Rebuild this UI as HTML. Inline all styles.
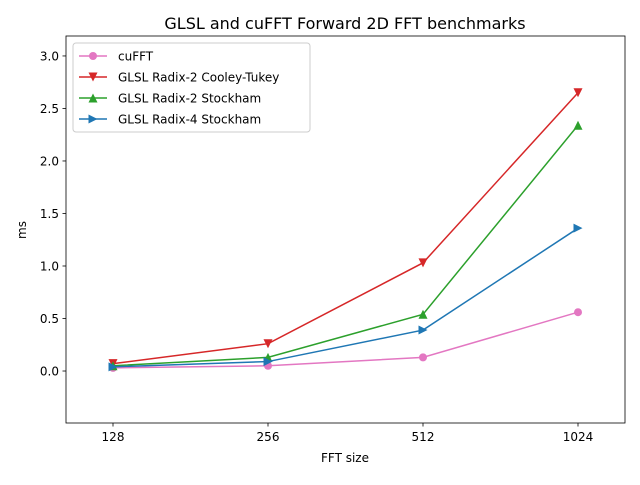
<!DOCTYPE html>
<html><head><meta charset="utf-8"><style>
body{margin:0;background:#fff;font-family:"Liberation Sans","DejaVu Sans",sans-serif}
svg text{font-family:"DejaVu Sans","Liberation Sans",sans-serif}
</style></head><body>
<svg id="c" width="640" height="480" xmlns="http://www.w3.org/2000/svg"></svg>
<script>
const categories=["128","256","512","1024"];
const seriesNames=["cuFFT","GLSL Radix-2 Cooley-Tukey","GLSL Radix-2 Stockham","GLSL Radix-4 Stockham"];
const cuFFT=[0.03,0.05,0.13,0.56];
const cooley=[0.07,0.26,1.03,2.65];
const stock2=[0.05,0.13,0.54,2.34];
const radix4=[0.04,0.09,0.39,1.36];
const yTicks=[0.0,0.5,1.0,1.5,2.0,2.5,3.0];
const yMin=-0.495,yMax=3.19;
const L=66,R=625,T=36,B=423;
const NS="http://www.w3.org/2000/svg";
const svg=document.getElementById('c');
function el(t,a,txt){const e=document.createElementNS(NS,t);for(const k in a)e.setAttribute(k,a[k]);if(txt!==undefined)e.textContent=txt;svg.appendChild(e);return e;}
const xs=i=>113+i*(578-113)/(categories.length-1);
const ys=v=>B-(v-yMin)/(yMax-yMin)*(B-T);
let t=el('text',{x:345,y:29,'text-anchor':'middle','font-size':16},'GLSL and cuFFT Forward 2D FFT benchmarks');

categories.forEach((c,i)=>{
 let l=el('line',{x1:xs(i),x2:xs(i),y1:B,y2:B+3.5,stroke:'#000','stroke-width':0.8});
 
 let tx=el('text',{x:xs(i),y:B+18,'text-anchor':'middle','font-size':12},c);
 
});
yTicks.forEach(v=>{
 let l=el('line',{x1:L-3.5,x2:L,y1:ys(v),y2:ys(v),stroke:'#000','stroke-width':0.8});
 
 let tx=el('text',{x:L-7,y:ys(v)+4.5,'text-anchor':'end','font-size':12},v.toFixed(1));
 
});
t=el('text',{x:345,y:462,'text-anchor':'middle','font-size':12},'FFT size');

t=el('text',{x:0,y:0,'text-anchor':'middle','font-size':12,transform:'translate(26,230) rotate(-90)'},'ms');

const colors=['#e377c2','#d62728','#2ca02c','#1f77b4'];
const markers=['o','v','^','>'];
const data=[cuFFT,cooley,stock2,radix4];
function marker(m,x,y,c){
 let e;
 if(m==='o')e=el('circle',{cx:x,cy:y,r:4,fill:c});
 else{let p;const s=4.5;
  if(m==='v')p=[[x-s,y-s],[x+s,y-s],[x,y+s]];
  if(m==='^')p=[[x-s,y+s],[x+s,y+s],[x,y-s]];
  if(m==='>')p=[[x-s,y-s],[x-s,y+s],[x+s,y]];
  e=el('polygon',{points:p.map(q=>q.join(',')).join(' '),fill:c});}
 return e;
}
data.forEach((d,s)=>{
 let pl=el('polyline',{points:d.map((v,i)=>xs(i)+','+ys(v)).join(' '),fill:'none',stroke:colors[s],'stroke-width':1.5});
 
 d.forEach((v,i)=>{let m=marker(markers[s],xs(i),ys(v),colors[s]);
  });
});
let fr=el('rect',{x:L,y:T,width:R-L,height:B-T,fill:'none',stroke:'#000','stroke-width':0.8});

let lg=el('rect',{x:73,y:43,width:237,height:89,rx:3,fill:'#fff','fill-opacity':0.8,stroke:'#ccc','stroke-width':1});

seriesNames.forEach((n,s)=>{
 const y=56+s*21;
 let l=el('line',{x1:79,x2:107,y1:y,y2:y,stroke:colors[s],'stroke-width':1.5});
 
 let m=marker(markers[s],93,y,colors[s]);
 
 let tx=el('text',{x:118,y:y+4.5,'font-size':12},n);
 
});
</script>
</body></html>
